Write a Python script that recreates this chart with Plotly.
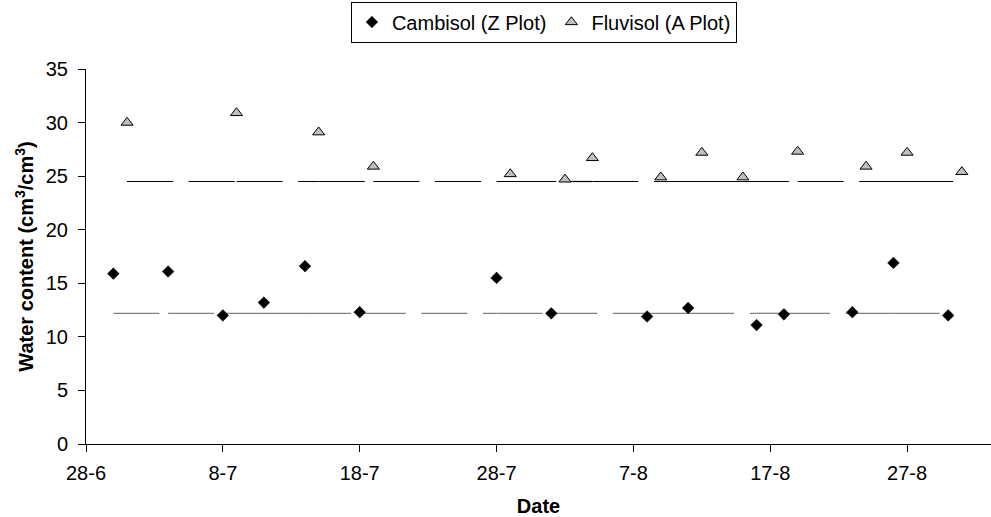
import plotly.graph_objects as go

# ---------------- data ----------------
cambisol_dates = ["2008-06-30", "2008-07-04", "2008-07-08", "2008-07-11", "2008-07-14",
                  "2008-07-18", "2008-07-28", "2008-08-01", "2008-08-08", "2008-08-11",
                  "2008-08-16", "2008-08-18", "2008-08-23", "2008-08-26", "2008-08-30"]
cambisol_values = [15.9, 16.1, 12.0, 13.2, 16.6, 12.3, 15.5, 12.2, 11.9, 12.7,
                   11.1, 12.1, 12.3, 16.9, 12.0]

fluvisol_dates = ["2008-07-01", "2008-07-09", "2008-07-15", "2008-07-19", "2008-07-29",
                  "2008-08-02", "2008-08-04", "2008-08-09", "2008-08-12", "2008-08-15",
                  "2008-08-19", "2008-08-24", "2008-08-27", "2008-08-31"]
fluvisol_values = [30.0, 30.9, 29.1, 25.9, 25.2, 24.7, 26.7, 24.9, 27.2, 24.9,
                   27.3, 25.9, 27.2, 25.4]

cambisol_ref = 12.2   # horizontal reference level (Z plot)
fluvisol_ref = 24.5   # horizontal reference level (A plot)

series_names = ["Cambisol (Z Plot)", "Fluvisol (A Plot)"]
x_title = "Date"
y_title = "Water content (cm<sup>3</sup>/cm<sup>3</sup>)"

FONT = "Liberation Sans, Arial, sans-serif"


def segmented(dates, level):
    """Reference line drawn point-to-point so the dash pattern restarts at each vertex."""
    xs, ys = [], []
    for a, b in zip(dates[:-1], dates[1:]):
        xs += [a, b, None]
        ys += [level, level, None]
    return xs, ys


fig = go.Figure()

cx, cy = segmented(cambisol_dates, cambisol_ref)
fig.add_trace(go.Scatter(x=cx, y=cy, mode="lines", showlegend=False, hoverinfo="skip",
                         line=dict(color="#808080", width=1.3, dash="46px,15.6px")))
fx, fy = segmented(fluvisol_dates, fluvisol_ref)
fig.add_trace(go.Scatter(x=fx, y=fy, mode="lines", showlegend=False, hoverinfo="skip",
                         line=dict(color="#000000", width=1.2, dash="46px,15.6px")))

fig.add_trace(go.Scatter(x=cambisol_dates, y=cambisol_values, mode="markers",
                         name=series_names[0],
                         marker=dict(symbol="diamond", size=9, color="#000000",
                                     line=dict(color="#000000", width=0.5))))
fig.add_trace(go.Scatter(x=fluvisol_dates, y=fluvisol_values, mode="markers",
                         name=series_names[1],
                         marker=dict(symbol="triangle-up", size=10.5, color="#bfbfbf",
                                     line=dict(color="#000000", width=1))))

fig.update_layout(
    width=991, height=517,
    margin=dict(l=86, r=0, t=69, b=73, autoexpand=False),
    paper_bgcolor="white", plot_bgcolor="white",
    font=dict(family=FONT, size=20, color="#000000"),
    legend=dict(orientation="h", x=0.506, xanchor="center", y=1.18, yanchor="top",
                bordercolor="#000000", borderwidth=1, bgcolor="white",
                font=dict(family=FONT, size=20), itemwidth=30,
                tracegroupgap=0),
    xaxis=dict(type="date", range=["2008-06-28", "2008-09-02 03:07"],
               tick0="2008-06-28", dtick=10 * 86400000, tickformat="%-d-%-m",
               showgrid=False, zeroline=False, showline=True, linecolor="#000000",
               linewidth=1, ticks="outside", ticklen=7, tickcolor="#000000",
               tickfont=dict(family=FONT, size=20), ticklabelstandoff=4,
               title=dict(text="<b>" + x_title + "</b>", standoff=18,
                          font=dict(family=FONT, size=20))),
    yaxis=dict(range=[0, 35], dtick=5, showgrid=False, zeroline=False,
               showline=True, linecolor="#000000", linewidth=1,
               ticks="outside", ticklen=7, tickcolor="#000000",
               tickfont=dict(family=FONT, size=20), ticklabelstandoff=6,
               title=dict(text="<b>" + y_title + "</b>", standoff=6,
                          font=dict(family=FONT, size=20))),
)

fig.write_html("out.html")
